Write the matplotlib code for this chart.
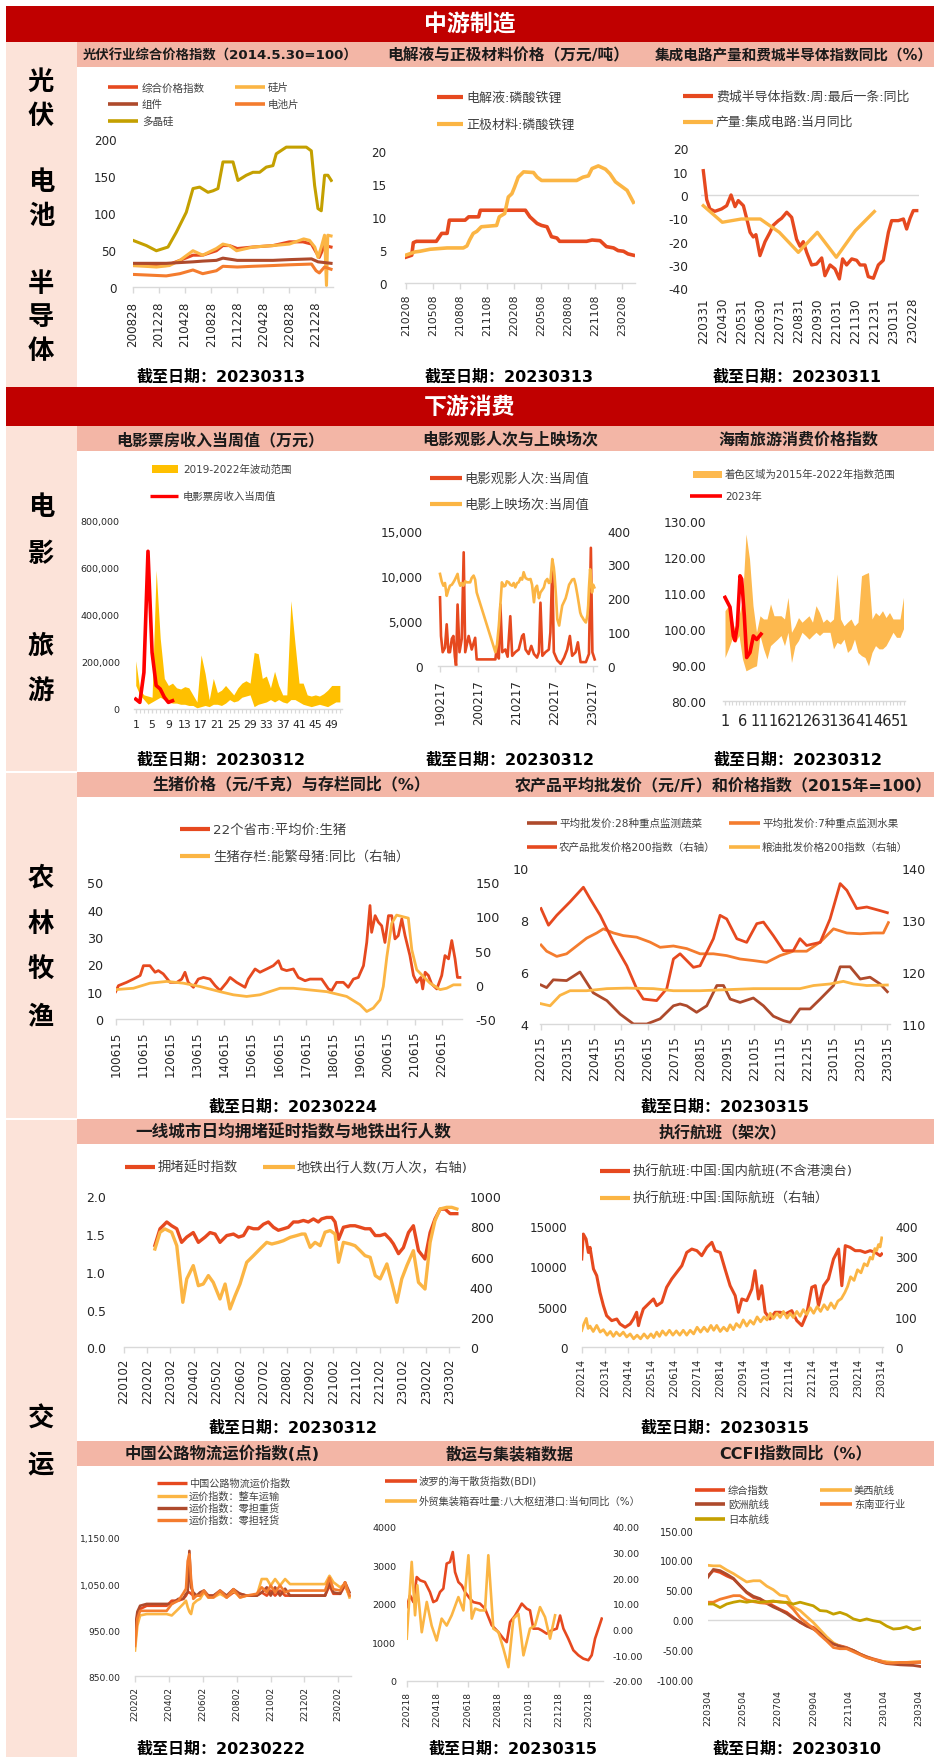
import matplotlib
matplotlib.use('Agg')
import matplotlib.pyplot as plt
from matplotlib.lines import Line2D
from matplotlib.patches import Rectangle

plt.rcParams['font.family'] = ['DejaVu Sans', 'Noto Sans CJK SC']
plt.rcParams['axes.unicode_minus'] = False

# ============================ DATA ============================
# 1 光伏行业综合价格指数 (x: months since 2020-08-28)
pv_ticks = ['200828', '201228', '210428', '210828', '211228', '220428', '220828', '221228']
pv_idx_x = [0, 5.1, 7.2, 9.2, 10.7, 12.8, 13.8, 14.8, 16.0, 18.4, 21.5, 24.0, 26.1, 27.4, 28.1, 28.6, 29.4, 30.4]
pv_idx = [29, 29, 36, 43, 43, 49, 56, 56, 52, 54, 56, 61, 61, 58, 47, 40, 56, 54]
pv_wafer_x = [0, 3.6, 5.6, 7.2, 9.2, 10.7, 12.8, 13.8, 14.8, 15.9, 18.4, 21.5, 24.0, 26.2, 27.1, 27.9, 28.4, 28.9, 29.4, 29.7, 29.9, 30.4]
pv_wafer = [29, 27, 29, 36, 49, 43, 52, 58, 56, 49, 54, 56, 58, 65, 63, 54, 40, 54, 70, 2, 70, 69]
pv_module_x = [0, 5.1, 9.2, 10.7, 12.8, 13.8, 15.3, 16.0, 21.5, 24.0, 27.4, 28.4, 30.4]
pv_module = [32, 32, 34, 35, 36, 39, 37, 36, 36, 37, 38, 34, 32]
pv_cell_x = [0, 5.1, 7.2, 9.2, 10.7, 12.8, 13.8, 16.0, 18.4, 21.5, 24.0, 27.4, 28.1, 28.6, 29.4, 30.4]
pv_cell = [17, 15, 18, 23, 18, 22, 28, 27, 28, 29, 30, 31, 22, 19, 27, 24]
pv_poly_x = [0, 2.05, 3.58, 5.37, 6.65, 8.18, 9.21, 10.23, 11.51, 12.28, 13.04, 13.81, 15.35, 16.11, 17.39,
             18.41, 19.44, 20.46, 21.48, 21.99, 23.53, 26.6, 27.37, 27.88, 28.39, 28.9, 29.41, 29.92, 30.43]
pv_poly = [63, 56, 49, 54, 74, 101, 133, 135, 128, 130, 133, 169, 169, 144, 151, 155, 155, 162, 164, 180, 189,
           189, 184, 137, 106, 103, 151, 151, 144]

# 2 电解液与正极材料价格 (x: months since 2021-02-08)
li_ticks = ['210208', '210508', '210808', '211108', '220208', '220508', '220808', '221108', '230208']
li_elec_x = [0, 0.67, 0.85, 1.2, 3.4, 4.0, 4.6, 4.85, 6.6, 7.0, 8.1, 8.3, 13.3, 13.8, 14.6, 15.1, 15.7, 16.2,
             16.8, 17.1, 20.1, 20.7, 21.6, 22.3, 23.1, 23.6, 24.2, 24.7, 25.3]
li_elec = [3.9, 4.2, 6.1, 6.3, 6.3, 7.5, 7.5, 9.5, 9.5, 10, 10, 11, 11, 10, 9, 8.7, 8.5, 7, 6.8, 6.3, 6.3, 6.5,
           6.4, 5.5, 5.3, 4.9, 4.8, 4.4, 4.2]
li_cath_x = [0, 1.04, 1.6, 2.7, 4.6, 6.4, 6.8, 7.1, 7.5, 7.9, 8.4, 10.1, 10.4, 11.0, 11.4, 11.8, 12.1, 12.5,
             13.1, 14.2, 14.6, 15.1, 19.0, 19.7, 20.3, 20.7, 21.4, 22.2, 22.7, 23.3, 23.8, 24.6, 25.3]
li_cath = [4.2, 4.7, 4.8, 5.1, 5.3, 5.3, 5.6, 6.5, 7.5, 7.8, 8.5, 8.7, 10, 10.5, 13, 13.5, 14.5, 16, 16.8, 16.7,
           16, 15.5, 15.5, 16, 16.2, 17.3, 17.7, 17.2, 16.5, 15.3, 14.8, 14, 12.2]

# 3 集成电路产量和费城半导体指数同比 (x: months since 2022-03-31)
ic_ticks = ['220331', '220430', '220531', '220630', '220731', '220831', '220930', '221031', '221130',
            '221231', '230131', '230228']
sox_x = [0, 0.18, 0.35, 0.61, 0.96, 1.23, 1.46, 1.67, 1.84, 2.11, 2.28, 2.46, 2.63, 2.77, 2.98, 3.25, 3.51,
         3.68, 3.95, 4.12, 4.39, 4.65, 4.91, 5.09, 5.26, 5.44, 5.7, 5.96, 6.23, 6.4, 6.67, 6.93, 7.16, 7.33,
         7.54, 7.81, 8.07, 8.25, 8.51, 8.68, 8.95, 9.21, 9.47, 9.74, 9.91, 10.26, 10.53, 10.7, 10.88, 11.05, 11.23]
sox = [10.4, -2, -6, -7, -6, -4.6, 0, -5, -2.4, -4.6, -10, -16, -18, -17, -26, -20, -16, -13, -11, -10, -7.4,
       -9.6, -19, -22, -20, -24.6, -30, -29.6, -27, -34.6, -30, -31.7, -36, -27.4, -30, -27.4, -28, -30, -30,
       -35, -35.7, -30, -28, -16, -11, -11, -10.3, -14.6, -10, -6.7, -6.7]
ic_out_x = [0, 1, 2, 3, 4, 5, 6, 7, 8, 9]
ic_out = [-4.6, -11.7, -10.3, -10.3, -16, -24.6, -16, -26.7, -15.3, -7.1]

# 4 电影票房收入当周值 (万元), weeks 1..51
box_weeks = list(range(1, 52))
box_upper = [205000, 80000, 60000, 55000, 50000, 590000, 300000, 130000, 100000, 110000, 90000, 85000, 95000,
             90000, 60000, 30000, 230000, 150000, 40000, 130000, 70000, 80000, 100000, 80000, 60000, 90000,
             110000, 120000, 110000, 240000, 235000, 130000, 140000, 90000, 160000, 100000, 60000, 60000,
             460000, 280000, 110000, 110000, 60000, 55000, 60000, 55000, 65000, 80000, 100000, 100000, 100000]
box_lower = [100000, 60000, 40000, 20000, 30000, 40000, 50000, 40000, 30000, 25000, 25000, 20000, 20000,
             15000, 15000, 5000, 10000, 15000, 10000, 20000, 20000, 15000, 25000, 40000, 30000, 35000, 50000,
             55000, 60000, 10000, 20000, 25000, 30000, 40000, 30000, 40000, 30000, 25000, 40000, 40000, 30000,
             20000, 15000, 10000, 15000, 20000, 15000, 10000, 20000, 30000, 30000]
box_2023_weeks = [1, 2, 3, 4, 5, 6, 7, 8, 9, 10]
box_2023 = [42000, 28000, 155000, 670000, 240000, 100000, 85000, 50000, 28000, 35000]

# 5 电影观影人次与上映场次 (x: years since 2019-02-17)
mv_ticks = ['190217', '200217', '210217', '220217', '230217']
aud_x = [0, 0.026, 0.07, 0.13, 0.175, 0.22, 0.26, 0.31, 0.35, 0.39, 0.42, 0.46, 0.51, 0.57, 0.62, 0.66, 0.75,
         0.83, 0.92, 0.96, 1.05, 1.45, 1.49, 1.54, 1.58, 1.63, 1.71, 1.77, 1.84, 1.89, 1.97, 2.06, 2.15, 2.19,
         2.24, 2.32, 2.39, 2.46, 2.54, 2.59, 2.63, 2.68, 2.76, 2.85, 2.89, 2.94, 2.98, 3.07, 3.16, 3.25, 3.33,
         3.4, 3.46, 3.55, 3.61, 3.68, 3.82, 3.9, 3.95, 3.99, 4.05]
aud = [7600, 3300, 1500, 2000, 4600, 1500, 1500, 3000, 3300, 1000, 0, 6800, 1500, 3000, 12600, 1500, 3300,
       1800, 3100, 700, 700, 700, 2200, 800, 6800, 1500, 1800, 1000, 5500, 1100, 1500, 1800, 3300, 3500, 1800,
       1300, 2200, 1300, 900, 1500, 7000, 1100, 1500, 1800, 3700, 11000, 1500, 600, 200, 900, 1800, 3300, 1100,
       1500, 2600, 400, 400, 1300, 13100, 1500, 700]
scr_x = [0, 0.044, 0.088, 0.13, 0.175, 0.22, 0.26, 0.31, 0.35, 0.39, 0.46, 0.49, 0.53, 0.57, 0.61, 0.66, 0.7,
         0.79, 0.83, 0.88, 0.92, 0.96, 1.45, 1.49, 1.54, 1.58, 1.62, 1.67, 1.71, 1.75, 1.8, 1.84, 1.89, 1.93,
         1.97, 2.02, 2.06, 2.11, 2.15, 2.19, 2.24, 2.28, 2.32, 2.37, 2.41, 2.46, 2.5, 2.54, 2.59, 2.63, 2.68,
         2.72, 2.76, 2.81, 2.85, 2.89, 2.94, 2.98, 3.0, 3.04, 3.07, 3.12, 3.16, 3.2, 3.25, 3.29, 3.33, 3.38,
         3.42, 3.46, 3.51, 3.55, 3.6, 3.64, 3.67, 3.7, 3.73, 3.77, 3.82, 3.86, 3.88, 3.9, 3.93, 3.96, 3.98,
         4.01, 4.04]
scr = [272, 250, 237, 245, 207, 225, 237, 240, 247, 255, 272, 250, 237, 245, 237, 250, 247, 247, 260, 267, 255,
       217, 40, 60, 119, 180, 247, 235, 237, 250, 247, 240, 237, 245, 232, 245, 247, 260, 255, 277, 260, 257,
       255, 257, 240, 188, 230, 237, 200, 217, 225, 232, 250, 257, 245, 247, 316, 290, 267, 200, 138, 119, 150,
       178, 190, 200, 217, 240, 247, 255, 257, 240, 208, 180, 158, 148, 143, 135, 128, 150, 178, 230, 286, 250,
       217, 240, 232]

# 6 海南旅游消费价格指数, weeks 1..52
hn_weeks = list(range(1, 53))
hn_upper = [105, 106.4, 102.7, 99, 103.6, 108.2, 126.3, 119.4, 106.4, 99, 103.6, 102.7, 102.7, 106.9, 103.6,
            103.6, 103.6, 102.7, 108.7, 99, 100.8, 103.1, 101.8, 102.7, 103.6, 101.8, 106.4, 104.5, 101.8,
            102.7, 101.8, 102.7, 115.2, 102.7, 100.8, 101.8, 102.7, 100.8, 101.8, 114.7, 115.2, 115.6, 102.7,
            104.5, 103.6, 105, 103.1, 104.5, 102.7, 102.7, 102.7, 108.7]
hn_lower = [92, 94.4, 97.1, 96.2, 98.1, 91.6, 88.3, 88.8, 89.3, 89.7, 98.1, 94.4, 91.6, 95.3, 96.2, 97.1, 98.1,
            95.3, 99, 90.6, 95.3, 96.7, 99, 98.1, 97.1, 98.1, 99, 98.1, 99, 99, 99, 94.4, 96.2, 95.7, 97.1,
            93.4, 94.4, 97.1, 93.4, 92.5, 92, 89.7, 93.4, 95.3, 94.4, 94.4, 95.3, 97.1, 99, 97.6, 97.6, 100]
hn_2023_x = [1, 2.43, 3.38, 3.86, 4.52, 5.29, 5.76, 6.52, 7.19, 8.14, 9.1, 10.05, 11.29]
hn_2023 = [108.7, 106, 98, 96.7, 100.8, 114.7, 113.8, 103.6, 92, 93.4, 98, 97, 98.5]

# 7 生猪价格与存栏同比 (x: years since 2010-06-15)
hog_ticks = ['100615', '110615', '120615', '130615', '140615', '150615', '160615', '170615', '180615',
             '190615', '200615', '210615', '220615']
hog_x = [0, 0.1, 0.4, 0.65, 0.9, 1.02, 1.26, 1.45, 1.57, 1.75, 2.0, 2.25, 2.43, 2.55, 2.67, 2.86, 3.04, 3.23,
         3.47, 3.66, 3.84, 4.09, 4.21, 4.45, 4.76, 4.88, 5.13, 5.31, 5.56, 5.8, 5.99, 6.11, 6.29, 6.54, 6.72,
         6.97, 7.15, 7.4, 7.58, 7.83, 7.95, 8.13, 8.38, 8.56, 8.75, 8.93, 9.12, 9.24, 9.36, 9.42, 9.55, 9.67,
         9.79, 9.91, 10.04, 10.16, 10.28, 10.4, 10.53, 10.65, 10.83, 10.96, 11.08, 11.23, 11.3, 11.39, 11.51,
         11.63, 11.82, 12.0, 12.12, 12.25, 12.37, 12.49, 12.58, 12.67]
hog = [10, 12.2, 13.4, 14.6, 15.9, 19.5, 19.5, 17.1, 17.7, 16.5, 13.4, 13.4, 14.6, 17.1, 13.4, 11.6, 14.6, 15.2,
       14.6, 12.2, 10.4, 13.4, 15.2, 13.4, 11.6, 14.6, 18.3, 17.1, 18.3, 19.5, 21.3, 18.3, 17.7, 18.3, 15.2,
       14.0, 14.6, 14.6, 14.6, 11, 10.4, 13.4, 13.4, 11.6, 14.6, 15.2, 19.5, 28, 41.5, 31.7, 37.8, 35.4, 34.1,
       28, 37.8, 37.8, 29.3, 30.5, 36.6, 30.5, 23.2, 15.9, 13.4, 15.2, 11, 17.1, 15.9, 12.8, 11, 15.9, 23.2, 22,
       28.7, 22, 15.2, 15.2]
sow_x = [0, 0.65, 1.26, 1.88, 2.49, 3.1, 3.84, 4.33, 4.82, 5.31, 6.05, 6.54, 7.03, 7.77, 8.5, 8.99, 9.24, 9.48,
         9.73, 9.85, 9.98, 10.16, 10.34, 10.77, 10.9, 11.08, 11.57, 11.94, 12.18, 12.43, 12.67]
sow = [-7, -5, 2.4, 5, 2.4, -2.4, -10, -14.6, -17, -14.6, -5, -5, -7, -10, -17, -29, -39, -34, -22, -2.4, 41, 90,
       102, 97.6, 51, 22, 2.4, -7, -5, 0, 0]

# 8 农产品平均批发价和价格指数 (x: months since 2022-02-15)
ag_ticks = ['220215', '220315', '220415', '220515', '220615', '220715', '220815', '220915', '221015',
            '221115', '221215', '230115', '230215', '230315']
veg_x = [0, 0.21, 0.46, 0.96, 1.46, 1.71, 1.96, 2.47, 2.97, 3.47, 3.97, 4.47, 4.97, 5.22, 5.47, 5.84, 6.22, 6.6,
         6.85, 7.1, 7.47, 7.97, 8.35, 8.72, 9.1, 9.35, 9.72, 10.1, 10.48, 10.98, 11.23, 11.6, 11.98, 12.35,
         12.73, 13.0]
veg = [5.5, 5.4, 5.7, 5.67, 6.0, 5.6, 5.2, 4.9, 4.38, 4.0, 4.0, 4.2, 4.7, 4.77, 4.7, 4.45, 4.7, 5.48, 5.48, 4.96,
       4.83, 5.0, 4.7, 4.3, 4.13, 4.06, 4.58, 4.58, 4.96, 5.48, 6.2, 6.2, 5.73, 5.8, 5.54, 5.24]
fruit_x = [0, 0.21, 0.59, 0.96, 1.21, 1.71, 2.09, 2.34, 2.72, 3.09, 3.59, 4.09, 4.47, 4.97, 5.47, 5.97, 6.47,
           6.97, 7.47, 7.97, 8.47, 8.97, 9.47, 9.97, 10.48, 10.98, 11.48, 11.98, 12.48, 12.85, 13.04]
fruit = [7.04, 6.8, 6.6, 6.7, 6.9, 7.3, 7.5, 7.66, 7.5, 7.4, 7.34, 7.15, 6.95, 7.0, 6.9, 6.7, 6.7, 6.63, 6.5,
         6.44, 6.37, 6.63, 6.8, 6.8, 7.15, 7.66, 7.5, 7.47, 7.5, 7.5, 7.9]
agi_x = [0, 0.28, 0.59, 1.09, 1.59, 1.84, 2.22, 2.72, 3.22, 3.59, 3.84, 4.34, 4.72, 4.97, 5.22, 5.72, 5.97, 6.47,
         6.72, 6.97, 7.35, 7.72, 8.1, 8.35, 8.72, 9.1, 9.47, 9.72, 9.97, 10.48, 10.85, 11.23, 11.48, 11.85,
         12.23, 12.73, 13.0]
agi = [132.2, 129, 130.9, 133.5, 136.3, 134.1, 130.9, 125.7, 121.2, 116.8, 114.8, 114.5, 116.8, 122.5, 123.5,
       120.9, 121.2, 126.4, 130.9, 130.2, 126.4, 125.7, 129.3, 129.6, 127, 124.1, 124.1, 126.4, 125.1, 125.7,
       130.2, 137, 135.7, 132.2, 132.5, 131.8, 131.4]
oil_x = [0, 0.34, 0.71, 1.09, 1.71, 2.47, 3.22, 4.22, 4.97, 5.97, 6.97, 7.97, 8.97, 9.72, 10.23, 10.85, 11.35,
         11.73, 12.23, 13.0]
oil = [113.9, 113.5, 115.5, 116.4, 116.4, 116.8, 116.9, 116.8, 116.4, 116.4, 116.6, 116.8, 116.8, 116.8, 117.4,
       117.7, 118.2, 117.7, 117.4, 117.5]

# 9 拥堵延时指数与地铁出行人数 (x: months since 2022-01-02)
tr_ticks = ['220102', '220202', '220302', '220402', '220502', '220602', '220702', '220802', '220902',
            '221002', '221102', '221202', '230102', '230202', '230302']
cong_x = [1.33, 1.55, 1.84, 2.05, 2.27, 2.48, 2.7, 2.98, 3.2, 3.49, 3.7, 3.92, 4.13, 4.42, 4.71, 4.93, 5.14,
          5.35, 5.57, 5.78, 6.0, 6.21, 6.43, 6.64, 6.86, 7.07, 7.29, 7.5, 7.72, 7.93, 8.15, 8.36, 8.5, 8.72,
          8.94, 9.08, 9.23, 9.44, 9.73, 9.94, 10.16, 10.37, 10.59, 10.81, 11.02, 11.23, 11.45, 11.59, 11.81,
          12.02, 12.24, 12.45, 12.67, 12.95, 13.17, 13.38, 13.6, 13.82, 14.03, 14.32]
cong = [1.35, 1.57, 1.66, 1.61, 1.57, 1.39, 1.46, 1.52, 1.39, 1.46, 1.52, 1.5, 1.39, 1.48, 1.5, 1.46, 1.48,
        1.59, 1.57, 1.57, 1.63, 1.66, 1.59, 1.55, 1.57, 1.59, 1.66, 1.66, 1.68, 1.66, 1.7, 1.66, 1.7, 1.72,
        1.72, 1.66, 1.43, 1.59, 1.61, 1.61, 1.59, 1.57, 1.57, 1.48, 1.48, 1.5, 1.43, 1.37, 1.24, 1.32, 1.52,
        1.61, 1.28, 1.17, 1.52, 1.7, 1.83, 1.83, 1.77, 1.77]
metro_x = [1.33, 1.55, 1.76, 2.05, 2.27, 2.41, 2.53, 2.7, 2.98, 3.2, 3.41, 3.63, 3.84, 4.13, 4.35, 4.56, 4.78,
           4.99, 5.28, 5.57, 5.85, 6.14, 6.36, 6.64, 6.86, 7.15, 7.43, 7.65, 7.79, 8.01, 8.22, 8.44, 8.65,
           8.87, 9.08, 9.23, 9.44, 9.73, 9.94, 10.16, 10.37, 10.59, 10.81, 11.02, 11.31, 11.52, 11.74, 11.95,
           12.17, 12.45, 12.67, 12.95, 13.17, 13.38, 13.6, 13.88, 14.1, 14.32]
metro = [651, 762, 784, 762, 673, 475, 298, 453, 541, 408, 419, 475, 430, 320, 419, 254, 342, 419, 563, 607,
         651, 695, 684, 695, 706, 728, 740, 750, 750, 662, 695, 673, 762, 773, 750, 563, 695, 684, 673, 640,
         607, 596, 475, 453, 552, 430, 298, 453, 541, 640, 430, 386, 695, 839, 916, 927, 927, 916]

# 10 执行航班 (x: months since 2022-02-14)
fl_ticks = ['220214', '220314', '220414', '220514', '220614', '220714', '220814', '220914', '221014',
            '221114', '221214', '230114', '230214', '230314']
dom_x = [0, 0.07, 0.19, 0.29, 0.36, 0.51, 0.65, 0.79, 0.94, 1.08, 1.3, 1.52, 1.66, 1.88, 2.1, 2.24, 2.38, 2.46,
         2.53, 2.67, 2.96, 3.11, 3.25, 3.47, 3.68, 3.9, 4.12, 4.34, 4.55, 4.77, 4.99, 5.2, 5.42, 5.64, 5.78,
         6.0, 6.21, 6.43, 6.65, 6.79, 6.94, 7.15, 7.37, 7.51, 7.66, 7.8, 7.95, 8.16, 8.38, 8.6, 8.82, 9.1,
         9.32, 9.54, 9.75, 9.97, 10.12, 10.26, 10.48, 10.69, 10.91, 11.13, 11.27, 11.42, 11.63, 11.85, 12.07,
         12.28, 12.5, 12.72, 12.93, 13.0]
dom = [10890, 13970, 13350, 11700, 12330, 9660, 8840, 6780, 5140, 3900, 3290, 3490, 2880, 2470, 2880, 3490,
       4320, 2670, 3490, 4730, 5550, 5960, 5140, 5550, 7400, 8430, 9250, 10070, 11700, 12120, 11920, 11300,
       12330, 12950, 11920, 11700, 9660, 7600, 6370, 4320, 5960, 5750, 7190, 9450, 5960, 7600, 4320, 3490,
       4320, 4320, 4110, 4520, 3290, 2670, 4110, 7400, 7600, 5140, 7600, 8430, 10890, 12120, 7600, 12540,
       12330, 11920, 11920, 11700, 11920, 11700, 11300, 11510]
intl_x = [0, 0.1, 0.2, 0.28, 0.36, 0.5, 0.65, 0.8, 0.94, 1.1, 1.24, 1.37, 1.5, 1.65, 1.8, 1.95, 2.1, 2.25, 2.4,
          2.55, 2.7, 2.85, 3.0, 3.12, 3.25, 3.37, 3.5, 3.65, 3.8, 3.95, 4.1, 4.25, 4.4, 4.55, 4.7, 4.85, 5.0,
          5.15, 5.3, 5.45, 5.6, 5.72, 5.85, 6.0, 6.15, 6.3, 6.43, 6.57, 6.7, 6.85, 7.0, 7.15, 7.3, 7.45, 7.6,
          7.75, 7.9, 8.03, 8.17, 8.3, 8.46, 8.6, 8.74, 8.9, 9.03, 9.17, 9.32, 9.46, 9.6, 9.75, 9.9, 10.05, 10.2,
          10.35, 10.5, 10.65, 10.8, 10.95, 11.1, 11.25, 11.4, 11.52, 11.65, 11.8, 11.95, 12.1, 12.24, 12.37,
          12.5, 12.6, 12.7, 12.78, 12.86, 12.93, 13.0]
intl = [55, 78, 95, 62, 70, 52, 72, 50, 58, 40, 52, 36, 50, 38, 50, 34, 44, 28, 40, 28, 44, 30, 44, 32, 50, 36,
        54, 40, 56, 40, 54, 40, 56, 40, 56, 44, 66, 50, 66, 52, 72, 56, 72, 52, 66, 54, 74, 58, 78, 66, 90, 70,
        88, 76, 100, 84, 100, 90, 112, 94, 112, 98, 118, 96, 112, 98, 118, 102, 124, 108, 130, 112, 134, 118,
        140, 124, 146, 128, 152, 160, 180, 200, 232, 220, 255, 245, 275, 268, 296, 290, 325, 318, 338, 330, 360]

# 11 中国公路物流运价指数 (x: months since 2022-02-02)
rd_ticks = ['220202', '220402', '220602', '220802', '221002', '221202', '230202']
rd_x = [0, 0.14, 0.30, 0.69, 1.87, 2.17, 2.56, 2.85, 3.01, 3.11, 3.21, 3.31, 3.44, 3.64, 3.84, 4.07, 4.33, 4.63,
        5.02, 5.41, 5.81, 6.2, 6.59, 7.19, 7.48, 7.78, 8.01, 8.27, 8.56, 8.86, 9.15, 9.74, 10.53, 11.22, 11.48,
        11.71, 12.11, 12.4, 12.66]
rd_all = [938, 981, 996, 1003, 1003, 1014, 1014, 1018, 1025, 1032, 1032, 1029, 1025, 1025, 1025, 1032, 1025,
          1025, 1032, 1021, 1032, 1029, 1025, 1025, 1032, 1025, 1036, 1025, 1036, 1025, 1025, 1025, 1025, 1025,
          1047, 1029, 1029, 1047, 1025]
rd_ftl = [906, 960, 982, 985, 985, 982, 996, 1007, 1014, 1000, 990, 985, 1007, 1014, 1018, 1032, 1021, 1021,
          1029, 1021, 1036, 1021, 1025, 1025, 1061, 1061, 1047, 1061, 1047, 1061, 1050, 1050, 1050, 1050, 1068,
          1054, 1043, 1050, 1021]
rd_heavy = [953, 990, 1003, 1007, 1007, 1007, 1018, 1018, 1029, 1032, 1122, 1043, 1032, 1025, 1032, 1036, 1025,
            1025, 1036, 1025, 1039, 1029, 1025, 1025, 1032, 1043, 1025, 1043, 1025, 1040, 1025, 1025, 1025, 1025,
            1054, 1032, 1029, 1054, 1032]
rd_light = [916, 975, 992, 992, 992, 1007, 1014, 1030, 1040, 1100, 1115, 1061, 1018, 1025, 1025, 1036, 1021,
            1021, 1036, 1021, 1039, 1021, 1025, 1029, 1043, 1032, 1047, 1032, 1047, 1032, 1036, 1036, 1036, 1036,
            1064, 1039, 1036, 1054, 1025]

# 12 散运与集装箱数据 (x: months since 2022-02-18)
bulk_ticks = ['220218', '220418', '220618', '220818', '221018', '221218', '230218']
bdi_x = [0, 0.22, 0.44, 0.66, 0.88, 1.2, 1.53, 1.75, 1.97, 2.19, 2.41, 2.63, 2.85, 3.03, 3.18, 3.4, 3.62, 3.84,
         4.16, 4.38, 4.82, 5.15, 5.59, 6.03, 6.36, 6.58, 6.8, 7.13, 7.57, 7.89, 8.11, 8.33, 8.66, 8.88, 9.21,
         9.54, 9.87, 10.09, 10.31, 10.63, 10.96, 11.29, 11.62, 11.95, 12.17, 12.39, 12.61, 12.83]
bdi = [1920, 2225, 2050, 2700, 2615, 2570, 2310, 2050, 2095, 2310, 2400, 3050, 3090, 3350, 2830, 2570, 2485,
       2310, 2140, 2050, 2010, 1880, 1450, 1270, 1100, 1010, 1530, 1700, 2010, 1880, 1835, 1360, 1360, 1315,
       1230, 1315, 1360, 1700, 1360, 1100, 800, 670, 580, 540, 670, 1100, 1360, 1620]
box_yoy_x = [0, 0.33, 0.55, 0.7, 0.99, 1.32, 1.64, 1.97, 2.3, 2.63, 2.96, 3.4, 3.73, 4.06, 4.28, 4.5, 4.82,
             5.15, 5.37, 5.7, 6.03, 6.36, 6.69, 7.02, 7.35, 7.68, 8.11, 8.44, 8.77, 9.1, 9.43, 9.76]
box_yoy = [-3.5, 26.4, 5.6, 17.3, -1, 10.8, 1.6, -4.2, 4.3, 1.6, 5.6, 12.7, 7.5, 29, 4.3, 8.2, 7.5, 7.5, 29, 0.4,
           -0.9, -7.4, -14.6, 4.3, 6.2, -10, 0.4, 1.6, 8.8, 4.9, -3.5, 5.6]

# 13 CCFI指数同比 (x: months since 2022-03-04)
cc_ticks = ['220304', '220504', '220704', '220904', '221104', '230104', '230304']
cc_x = [0, 0.32, 0.7, 1.08, 1.46, 1.83, 2.21, 2.59, 2.97, 3.35, 3.72, 4.1, 4.48, 4.86, 5.24, 5.61, 5.99, 6.37,
        6.75, 7.13, 7.5, 7.88, 8.26, 8.64, 9.02, 9.39, 9.77, 10.15, 10.53, 10.91, 11.28, 11.66, 12.04]
cc_all = [74, 83, 80, 74, 69, 58, 46, 38, 35, 30, 24, 18, 13, 4.5, -4, -9.5, -12, -21, -32, -40, -43, -46, -51,
          -57, -61.5, -65, -68, -71, -71, -71, -71, -71, -71]
cc_eu = [71.6, 85, 83, 77, 70, 58, 47, 40, 36, 28, 22, 17, 11, 3, -3, -10, -15, -22, -33, -40, -44, -47, -51,
         -57, -62, -66, -70, -73, -74, -75, -75.5, -76, -77.7]
cc_usw = [92, 91, 91, 84, 78, 71, 64, 66, 66, 57, 51, 42, 40, 22, 16, 6, -4, -16, -28, -38, -44, -47, -51, -57,
          -62, -66, -69, -70, -71, -71, -71, -70, -70]
cc_sea = [30, 30, 35, 38, 41, 41, 34, 31, 29, 28, 31, 31, 29, 18, 4, -5, -14, -25, -35, -46, -48, -48, -53, -58,
          -63, -66, -69, -72, -72, -71, -71, -71, -70]
cc_jp = [27, 27, 21, 27, 30, 32, 30, 32, 30, 31, 32, 30, 30, 27, 30, 27, 24, 16, 15, 10, 13, 9, 2, -1, 2, -1, -3,
         -10, -15, -14, -11, -16, -13]

# ============================ STYLE ============================
W, H = 934, 1758
C1 = '#E6491F'
C2 = '#FBB544'
C3 = '#AE4A2C'
C4 = '#F47C2E'
C5 = '#C4A000'
RED = '#FF0000'
GRAY = '#D9D9D9'
TXT = '#262626'
LEGTXT = '#404040'
HEAD = '#C00000'
SALMON = '#F3B6A6'
PINK = '#FCE3D9'

fig = plt.figure(figsize=(W / 100, H / 100), dpi=100)
fig.patch.set_facecolor('white')


def frect(x0, y0, x1, y1, color, z=-5):
    fig.add_artist(Rectangle((x0 / W, 1 - y1 / H), (x1 - x0) / W, (y1 - y0) / H,
                             transform=fig.transFigure, facecolor=color, edgecolor='none', zorder=z))


def ftxt(x, y, s, size, color=TXT, weight='normal', ha='center'):
    fig.text(x / W, 1 - y / H, s, fontsize=size, color=color, fontweight=weight, ha=ha, va='center')


def leg_line(x0, x1, y, color, label, tx, size, lw=2.6):
    fig.add_artist(Line2D([x0 / W, x1 / W], [1 - y / H, 1 - y / H], transform=fig.transFigure,
                          color=color, lw=lw, solid_capstyle='butt'))
    ftxt(tx, y, label, size, color=LEGTXT, ha='left')


def leg_patch(x0, x1, y, h, color, label, tx, size):
    frect(x0, y - h / 2, x1, y + h / 2, color, z=1)
    ftxt(tx, y, label, size, color=LEGTXT, ha='left')


def make_ax(l, r, t, b, xlim, ylim):
    ax = fig.add_axes([l / W, 1 - b / H, (r - l) / W, (b - t) / H])
    ax.set_xlim(*xlim)
    ax.set_ylim(*ylim)
    ax.patch.set_visible(False)
    for s in ('top', 'right', 'left'):
        ax.spines[s].set_visible(False)
    ax.spines['bottom'].set_color(GRAY)
    ax.spines['bottom'].set_linewidth(1.0)
    return ax


def yax(ax, ticks, labels, size, pad):
    ax.set_yticks(ticks)
    ax.set_yticklabels(labels)
    ax.tick_params(axis='y', length=0, labelsize=size, pad=pad, labelcolor=TXT)


def xax(ax, ticks, labels, size, pad, rot=90, length=4):
    ax.set_xticks(ticks)
    ax.set_xticklabels(labels, rotation=rot)
    ax.tick_params(axis='x', length=length, width=1, color=GRAY, labelsize=size, pad=pad, labelcolor=TXT)


def twin(ax, ylim, ticks, labels, size, pad):
    a2 = ax.twinx()
    a2.set_ylim(*ylim)
    for s in a2.spines.values():
        s.set_visible(False)
    a2.set_yticks(ticks)
    a2.set_yticklabels(labels)
    a2.tick_params(axis='y', length=0, labelsize=size, pad=pad, labelcolor=TXT)
    return a2


# ============================ LAYOUT ============================
frect(6, 7, 934, 43, HEAD)
frect(6, 388, 934, 427, HEAD)
frect(6, 43, 77, 388, PINK)
frect(6, 427, 77, 772, PINK)
frect(6, 774, 77, 1119, PINK)
frect(6, 1121, 77, 1758, PINK)
for (a, b) in [(43, 68), (427, 452), (773, 798), (1120, 1145), (1442, 1467)]:
    frect(77, a, 934, b, SALMON)

ftxt(470, 25, '中游制造', 16.5, color='white', weight='bold')
ftxt(470, 407, '下游消费', 16.5, color='white', weight='bold')

side = [('光', 83), ('伏', 117), ('电', 183), ('池', 217), ('半', 285), ('导', 318), ('体', 352),
        ('电', 508), ('影', 555), ('旅', 647), ('游', 692),
        ('农', 878), ('林', 925), ('牧', 970), ('渔', 1017),
        ('交', 1420), ('运', 1465)]
for ch, yy in side:
    ftxt(41, yy, ch, 19, color='black', weight='bold')

titles = [(220, 55.5, '光伏行业综合价格指数（2014.5.30=100）', 9.6),
          (508, 55.5, '电解液与正极材料价格（万元/吨）', 11.3),
          (794, 55.5, '集成电路产量和费城半导体指数同比（%）', 10.5),
          (220, 440, '电影票房收入当周值（万元）', 11.5),
          (510, 440, '电影观影人次与上映场次', 11.5),
          (798, 440, '海南旅游消费价格指数', 11.5),
          (291, 785, '生猪价格（元/千克）与存栏同比（%）', 11.5),
          (723, 785, '农产品平均批发价（元/斤）和价格指数（2015年=100）', 11.5),
          (293, 1132.5, '一线城市日均拥堵延时指数与地铁出行人数', 12),
          (722.5, 1132.5, '执行航班（架次）', 11.5),
          (221.7, 1454, '中国公路物流运价指数(点)', 11.8),
          (509, 1454, '散运与集装箱数据', 11.5),
          (796, 1454, 'CCFI指数同比（%）', 11.5)]
for x, y, s, sz in titles:
    ftxt(x, y, s, sz, color='#1A1A1A', weight='bold')

dates = [(221, 377, '20230313'), (509, 377, '20230313'), (797.5, 377, '20230311'),
         (221, 760, '20230312'), (510, 760, '20230312'), (798, 760, '20230312'),
         (293, 1107, '20230224'), (725.5, 1107, '20230315'),
         (293, 1428, '20230312'), (725.5, 1428, '20230315'),
         (221, 1749, '20230222'), (513, 1749, '20230315'), (797.5, 1749, '20230310')]
for x, y, d in dates:
    ftxt(x, y, '截至日期：' + d, 11.5, color='black', weight='bold')

# ============================ CHART 1 ============================
ax = make_ax(133, 333, 140, 288, (0, 30.7), (0, 200))
ax.plot(pv_idx_x, pv_idx, color=C1, lw=2.2)
ax.plot(pv_wafer_x, pv_wafer, color=C2, lw=2.2)
ax.plot(pv_module_x, pv_module, color=C3, lw=2.2)
ax.plot(pv_cell_x, pv_cell, color=C4, lw=2.2)
ax.plot(pv_poly_x, pv_poly, color=C5, lw=2.2)
yax(ax, [0, 50, 100, 150, 200], ['0', '50', '100', '150', '200'], 8.6, 12)
xax(ax, [0, 4, 8, 12, 16, 20, 24, 28], pv_ticks, 8.6, 5.8)
leg_line(108, 138, 88.3, C1, '综合价格指数', 142, 7.6)
leg_line(108, 138, 104.7, C3, '组件', 142, 7.6)
leg_line(108, 138, 121.7, C5, '多晶硅', 142, 7.6)
leg_line(235, 265, 88.3, C2, '硅片', 268, 7.6)
leg_line(235, 265, 104.7, C4, '电池片', 268, 7.6)

# ============================ CHART 2 ============================
ax = make_ax(404.8, 635.2, 151.7, 284, (-0.1, 25.5), (0, 20))
ax.plot(li_elec_x, li_elec, color=C1, lw=2.6)
ax.plot(li_cath_x, li_cath, color=C2, lw=2.6)
yax(ax, [0, 5, 10, 15, 20], ['0', '5', '10', '15', '20'], 8.6, 13)
xax(ax, [0, 3, 6, 9, 12, 15, 18, 21, 24], li_ticks, 7.8, 3.8)
leg_line(437, 463, 98.3, C1, '电解液:磷酸铁锂', 466, 9.4, lw=3)
leg_line(437, 463, 125, C2, '正极材料:磷酸铁锂', 466, 9.4, lw=3)

# ============================ CHART 3 ============================
ax = make_ax(701.4, 919, 149.3, 289.3, (-0.1, 11.35), (-40, 20))
ax.spines['bottom'].set_visible(False)
ax.axhline(0, color=GRAY, lw=1.0)
ax.plot(sox_x, sox, color=C1, lw=2.4)
ax.plot(ic_out_x, ic_out, color=C2, lw=2.4)
yax(ax, [-40, -30, -20, -10, 0, 10, 20], ['-40', '-30', '-20', '-10', '0', '10', '20'], 8.8, 9.5)
xax(ax, list(range(12)), ic_ticks, 8.6, 6.3, length=0)
leg_line(683, 713, 96.7, C1, '费城半导体指数:周:最后一条:同比', 716, 9.3, lw=3)
leg_line(683, 713, 122.7, C2, '产量:集成电路:当月同比', 716, 9.3, lw=3)

# ============================ CHART 4 ============================
ax = make_ax(133.7, 341.9, 521.7, 710, (0.5, 51.5), (0, 800000))
ax.fill_between(box_weeks, box_lower, box_upper, color='#FFC000', lw=0)
ax.plot(box_2023_weeks, box_2023, color=RED, lw=2.6)
yax(ax, [0, 200000, 400000, 600000, 800000], ['0', '200,000', '400,000', '600,000', '800,000'], 6.8, 10)
xax(ax, list(range(1, 50, 4)), [str(v) for v in range(1, 50, 4)], 7.8, 4.0, rot=0, length=3)
ax.set_xticks(box_weeks, minor=True)
ax.tick_params(axis='x', which='minor', length=3, color=GRAY, width=0.8)
leg_patch(152, 178, 470, 7, '#FFC000', '2019-2022年波动范围', 183, 7.5)
leg_line(150, 178, 497, RED, '电影票房收入当周值', 183, 7.5, lw=2.4)

# ============================ CHART 5 ============================
ax = make_ax(438.1, 596.6, 531.7, 666.7, (-0.05, 4.1), (0, 15000))
ax.plot(aud_x, aud, color=C1, lw=1.9)
yax(ax, [0, 5000, 10000, 15000], ['0', '5,000', '10,000', '15,000'], 8.7, 11)
xax(ax, [0, 1, 2, 3, 4], mv_ticks, 8.5, 5.5)
a2 = twin(ax, (0, 400), [0, 100, 200, 300, 400], ['0', '100', '200', '300', '400'], 8.7, 7.7)
a2.plot(scr_x, scr, color=C2, lw=1.9)
leg_line(430, 461.7, 479.3, C1, '电影观影人次:当周值', 464, 9.6, lw=3)
leg_line(430, 461.7, 505, C2, '电影上映场次:当周值', 464, 9.6, lw=3)

# ============================ CHART 6 ============================
ax = make_ax(723.25, 905.25, 521.7, 701.7, (0.5, 52.5), (80, 130))
ax.fill_between(hn_weeks, hn_lower, hn_upper, color='#FDB94F', lw=0)
ax.plot(hn_2023_x, hn_2023, color=RED, lw=2.6)
yax(ax, [80, 90, 100, 110, 120, 130], ['80.00', '90.00', '100.00', '110.00', '120.00', '130.00'], 8.8, 12)
xax(ax, list(range(1, 52, 5)), [str(v) for v in range(1, 52, 5)], 10.5, 5.8, rot=0, length=3)
ax.set_xticks(hn_weeks, minor=True)
ax.tick_params(axis='x', which='minor', length=3, color=GRAY, width=0.8)
leg_patch(693, 722, 475, 7, '#FDB94F', '着色区域为2015年-2022年指数范围', 725, 7.5)
leg_line(690, 722, 497.3, RED, '2023年', 725, 7.5, lw=2.6)

# ============================ CHART 7 ============================
ax = make_ax(115.7, 462.1, 883.3, 1020, (0, 12.75), (0, 50))
ax.plot(hog_x, hog, color=C1, lw=2.0)
yax(ax, [0, 10, 20, 30, 40, 50], ['0', '10', '20', '30', '40', '50'], 9.2, 9)
xax(ax, list(range(13)), hog_ticks, 8.6, 4.3)
a2 = twin(ax, (-50, 150), [-50, 0, 50, 100, 150], ['-50', '0', '50', '100', '150'], 9.2, 9.4)
a2.plot(sow_x, sow, color=C2, lw=2.0)
leg_line(180, 210, 830, C1, '22个省市:平均价:生猪', 213, 9.6, lw=3)
leg_line(180, 210, 857, C2, '生猪存栏:能繁母猪:同比（右轴）', 213, 9.6, lw=3)

# ============================ CHART 8 ============================
ax = make_ax(539.7, 890, 869, 1025, (-0.05, 13.1), (4, 10))
ax.plot(veg_x, veg, color=C3, lw=2.0)
ax.plot(fruit_x, fruit, color=C4, lw=2.0)
yax(ax, [4, 6, 8, 10], ['4', '6', '8', '10'], 9.2, 8)
xax(ax, list(range(14)), ag_ticks, 8.5, 4.3)
a2 = twin(ax, (110, 140), [110, 120, 130, 140], ['110', '120', '130', '140'], 9.2, 8.4)
a2.plot(agi_x, agi, color=C1, lw=2.0)
a2.plot(oil_x, oil, color=C2, lw=2.0)
leg_line(527, 557, 824, C3, '平均批发价:28种重点监测蔬菜', 559, 7.6)
leg_line(527, 557, 847.7, C1, '农产品批发价格200指数（右轴）', 559, 7.6)
leg_line(729, 760, 824, C4, '平均批发价:7种重点监测水果', 762, 7.6)
leg_line(729, 760, 847.7, C2, '粮油批发价格200指数（右轴）', 762, 7.6)

# ============================ CHART 9 ============================
ax = make_ax(124, 458.7, 1197.3, 1348.3, (0, 14.4), (0, 2))
ax.plot(cong_x, cong, color=C1, lw=2.4)
yax(ax, [0, 0.5, 1.0, 1.5, 2.0], ['0.0', '0.5', '1.0', '1.5', '2.0'], 9, 13)
xax(ax, list(range(15)), tr_ticks, 8.6, 3.6)
a2 = twin(ax, (0, 1000), [0, 200, 400, 600, 800, 1000], ['0', '200', '400', '600', '800', '1000'], 9, 8)
a2.plot(metro_x, metro, color=C2, lw=2.4)
leg_line(125, 155, 1168.3, C1, '拥堵延时指数', 158, 9.6, lw=3)
leg_line(263, 295, 1168.3, C2, '地铁出行人数(万人次，右轴)', 297, 9.6, lw=3)

# ============================ CHART 10 ============================
ax = make_ax(581.7, 882.9, 1226.7, 1348.3, (0, 13.05), (0, 15000))
ax.plot(dom_x, dom, color=C1, lw=2.2)
yax(ax, [0, 5000, 10000, 15000], ['0', '5000', '10000', '15000'], 8.6, 10.4)
xax(ax, list(range(14)), fl_ticks, 7.3, 3.6)
a2 = twin(ax, (0, 400), [0, 100, 200, 300, 400], ['0', '100', '200', '300', '400'], 8.6, 8.7)
a2.plot(intl_x, intl, color=C2, lw=2.0)
leg_line(600, 630, 1171.7, C1, '执行航班:中国:国内航班(不含港澳台)', 633, 9.6, lw=3)
leg_line(600, 630, 1199.3, C2, '执行航班:中国:国际航班（右轴）', 633, 9.6, lw=3)

# ============================ CHART 11 ============================
ax = make_ax(135, 351, 1539, 1677.3, (0, 12.75), (850, 1150))
ax.plot(rd_x, rd_all, color=C1, lw=1.9)
ax.plot(rd_x, rd_ftl, color=C2, lw=1.9)
ax.plot(rd_x, rd_heavy, color=C3, lw=1.9)
ax.plot(rd_x, rd_light, color=C4, lw=1.9)
yax(ax, [850, 950, 1050, 1150], ['850.00', '950.00', '1,050.00', '1,150.00'], 6.6, 10.3)
xax(ax, [0, 2, 4, 6, 8, 10, 12], rd_ticks, 6.5, 2.7)
leg_line(157, 187, 1484, C1, '中国公路物流运价指数', 189, 7.3, lw=2.4)
leg_line(157, 187, 1496.5, C2, '运价指数：整车运输', 189, 7.3, lw=2.4)
leg_line(157, 187, 1509, C3, '运价指数：零担重货', 189, 7.3, lw=2.4)
leg_line(157, 187, 1521, C4, '运价指数：零担轻货', 189, 7.3, lw=2.4)

# ============================ CHART 12 ============================
ax = make_ax(406.7, 602.8, 1528, 1682, (0, 12.9), (0, 4000))
ax.plot(bdi_x, bdi, color=C1, lw=1.9)
yax(ax, [0, 1000, 2000, 3000, 4000], ['0', '1000', '2000', '3000', '4000'], 6.8, 7.7)
xax(ax, [0, 2, 4, 6, 8, 10, 12], bulk_ticks, 6.6, 3.4)
a2 = twin(ax, (-20, 40), [-20, -10, 0, 10, 20, 30, 40],
          ['-20.00', '-10.00', '0.00', '10.00', '20.00', '30.00', '40.00'], 6.8, 7)
a2.plot(box_yoy_x, box_yoy, color=C2, lw=1.9)
leg_line(385, 417, 1481.7, C1, '波罗的海干散货指数(BDI)', 419, 7.4, lw=2.6)
leg_line(385, 417, 1501.7, C2, '外贸集装箱吞吐量:八大枢纽港口:当旬同比（%）', 419, 7.4, lw=2.6)

# ============================ CHART 13 ============================
ax = make_ax(707.7, 921, 1531.7, 1680.7, (0, 12.1), (-100, 150))
ax.spines['bottom'].set_visible(False)
ax.axhline(0, color=GRAY, lw=1.0)
ax.plot(cc_x, cc_all, color=C1, lw=2.0)
ax.plot(cc_x, cc_usw, color=C2, lw=2.0)
ax.plot(cc_x, cc_eu, color=C3, lw=2.0)
ax.plot(cc_x, cc_sea, color=C4, lw=2.0)
ax.plot(cc_x, cc_jp, color=C5, lw=2.0)
yax(ax, [-100, -50, 0, 50, 100, 150], ['-100.00', '-50.00', '0.00', '50.00', '100.00', '150.00'], 7, 10.4)
xax(ax, [0, 2, 4, 6, 8, 10, 12], cc_ticks, 6.8, 6.7, length=0)
leg_line(695, 725, 1490.7, C1, '综合指数', 728, 7.4, lw=2.6)
leg_line(695, 725, 1505, C3, '欧洲航线', 728, 7.4, lw=2.6)
leg_line(695, 725, 1520, C5, '日本航线', 728, 7.4, lw=2.6)
leg_line(820, 852, 1490.7, C2, '美西航线', 854, 7.4, lw=2.6)
leg_line(820, 852, 1505, C4, '东南亚行业', 854, 7.4, lw=2.6)

fig.savefig('out.png', dpi=100)
